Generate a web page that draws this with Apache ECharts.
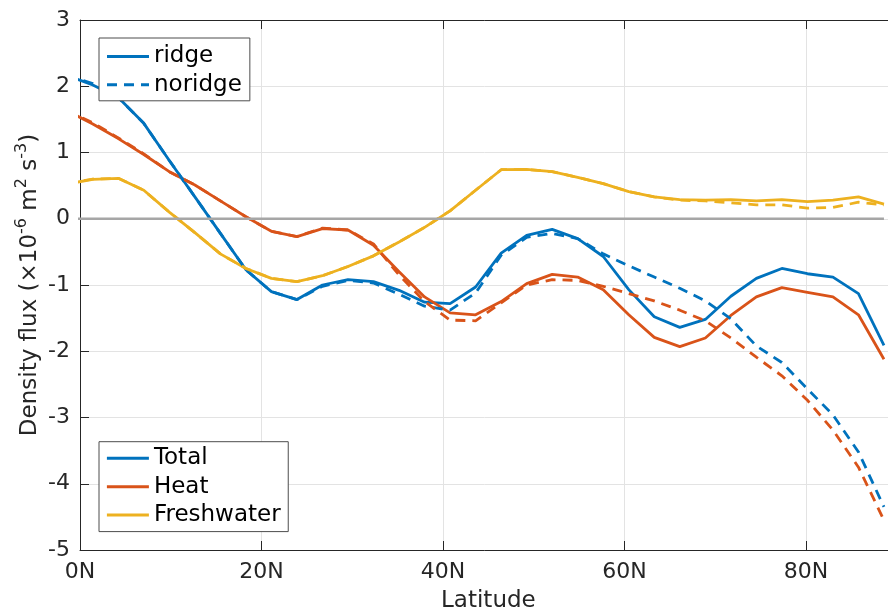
<!DOCTYPE html>
<html><head><meta charset="utf-8">
<script src="https://cdn.jsdelivr.net/npm/echarts@6/dist/echarts.min.js"></script>
<style>html,body{margin:0;padding:0;background:#fff}#c{width:888px;height:615px}</style>
</head><body><div id="c"></div>
<script>
// Latitude of each sample (degrees N)
const lat = [-1.41, 1.41, 4.22, 7.03, 9.84, 12.66, 15.47, 18.28, 21.09, 23.91, 26.72,
  29.53, 32.34, 35.16, 37.97, 40.78, 43.59, 46.41, 49.22, 52.03, 54.84, 57.66,
  60.47, 63.28, 66.09, 68.91, 71.72, 74.53, 77.34, 80.16, 82.97, 85.78, 88.59];

// ridge (solid)
const totalRidge = [2.16, 2.02, 1.83, 1.44, 0.88, 0.33, -0.22, -0.77, -1.10, -1.22, -1.00,
  -0.92, -0.95, -1.08, -1.26, -1.28, -1.03, -0.52, -0.25, -0.16, -0.30, -0.57,
  -1.07, -1.48, -1.64, -1.52, -1.17, -0.90, -0.75, -0.83, -0.88, -1.13, -1.91];
const heatRidge = [1.63, 1.43, 1.21, 0.97, 0.71, 0.51, 0.27, 0.03, -0.19, -0.27, -0.15,
  -0.17, -0.40, -0.80, -1.18, -1.42, -1.45, -1.25, -0.98, -0.84, -0.88, -1.07,
  -1.45, -1.79, -1.93, -1.80, -1.46, -1.18, -1.04, -1.11, -1.18, -1.45, -2.12];
const freshRidge = [0.525, 0.595, 0.61, 0.43, 0.10, -0.21, -0.53, -0.75, -0.90, -0.95, -0.86,
  -0.72, -0.56, -0.35, -0.13, 0.12, 0.43, 0.74, 0.745, 0.71, 0.625, 0.53,
  0.41, 0.33, 0.29, 0.28, 0.29, 0.27, 0.29, 0.26, 0.28, 0.33, 0.22];

// noridge (dashed)
const totalNoridge = [2.16, 2.04, 1.83, 1.44, 0.88, 0.33, -0.22, -0.77, -1.10, -1.22, -1.02,
  -0.93, -0.97, -1.14, -1.32, -1.38, -1.12, -0.55, -0.28, -0.22, -0.30, -0.53,
  -0.71, -0.88, -1.05, -1.24, -1.51, -1.92, -2.17, -2.57, -2.96, -3.52, -4.35];
const heatNoridge = [1.63, 1.45, 1.22, 0.98, 0.71, 0.51, 0.27, 0.03, -0.19, -0.27, -0.14,
  -0.17, -0.38, -0.85, -1.25, -1.53, -1.54, -1.27, -1.00, -0.92, -0.93, -1.02,
  -1.13, -1.24, -1.38, -1.54, -1.80, -2.09, -2.37, -2.74, -3.19, -3.75, -4.55];
const freshNoridge = [0.525, 0.60, 0.61, 0.43, 0.10, -0.21, -0.53, -0.75, -0.90, -0.95, -0.86,
  -0.72, -0.56, -0.35, -0.13, 0.12, 0.43, 0.74, 0.745, 0.71, 0.625, 0.53,
  0.41, 0.33, 0.28, 0.27, 0.24, 0.21, 0.21, 0.16, 0.17, 0.25, 0.21];

const xTickLabels = ['0N', '20N', '40N', '60N', '80N'];
const legendTop = ['ridge', 'noridge'];
const legendBottom = ['Total', 'Heat', 'Freshwater'];

const C_BLUE = '#0072BD', C_RED = '#D95319', C_YEL = '#EDB120';
const FONT = 'DejaVu Sans';
const AX = '#262626';
const LW = 2.8;
const DASH = [10, 7];

function pairs(ys) { return lat.map((x, i) => [x, ys[i]]); }
function line(name, ys, color, dashed, z) {
  return {
    name: name, type: 'line', data: ys ? pairs(ys) : [], symbol: 'none', showSymbol: false,
    clip: true, z: z || 2, silent: true,
    lineStyle: { color: color, width: LW, type: dashed ? DASH : 'solid', cap: 'butt' },
    itemStyle: { color: color }
  };
}

const chart = echarts.init(document.getElementById('c'), null, { renderer: 'canvas' });
const legendCommon = {
  orient: 'vertical', itemWidth: 42, itemHeight: 14, itemGap: 0,
  backgroundColor: '#fff', borderColor: '#4d4d4d', borderWidth: 1, borderRadius: 0,
  textStyle: { fontFamily: FONT, fontSize: 23, color: '#000', lineHeight: 28.3 },
  itemStyle: { opacity: 0 },
  lineStyle: { width: 3 },
  selectedMode: false
};
chart.setOption({
  animation: false,
  backgroundColor: '#fff',
  grid: { left: 80, top: 20, right: -8.75, bottom: 65, containLabel: false, outerBoundsMode: 'none' },
  legend: [
    Object.assign({}, legendCommon, { data: legendTop, left: 99, top: 38, padding: [4.3, 8, 1.9, 6.5] }),
    Object.assign({}, legendCommon, { data: legendBottom, left: 99, top: 441.7, padding: [2.5, 7.6, 2.5, 6.4] })
  ],
  xAxis: [{
    type: 'value', min: 0, max: 90, interval: 20, position: 'bottom',
    name: 'Latitude', nameLocation: 'middle', nameGap: 40, nameMoveOverlap: false,
    nameTextStyle: { fontFamily: FONT, fontSize: 23, color: AX },
    axisLine: { show: true, onZero: false, lineStyle: { color: AX, width: 1 } },
    axisTick: { show: true, inside: true, length: 9, lineStyle: { color: AX } },
    axisLabel: {
      fontFamily: FONT, fontSize: 22, color: AX, margin: 11, showMaxLabel: false,
      formatter: v => xTickLabels[Math.round(v / 20)] || ''
    },
    splitLine: { show: true, lineStyle: { color: '#e3e3e3', width: 1 } }
  }, {
    type: 'value', min: 0, max: 90, interval: 20, position: 'top',
    axisLine: { show: true, onZero: false, lineStyle: { color: AX, width: 1 } },
    axisTick: { show: true, inside: true, length: 9, lineStyle: { color: AX } },
    axisLabel: { show: false }, splitLine: { show: false }
  }],
  yAxis: {
    type: 'value', min: -5, max: 3, interval: 1,
    name: 'Density flux (×10{sup|-6} m{sup|2} s{sup|-3})',
    nameLocation: 'middle', nameRotate: 90, nameGap: 34, nameMoveOverlap: false,
    nameTextStyle: {
      fontFamily: FONT, fontSize: 23, color: AX, lineHeight: 32,
      rich: { sup: { fontFamily: FONT, fontSize: 16, color: AX, lineHeight: 16, verticalAlign: 'top' } }
    },
    axisLine: { show: true, onZero: false, lineStyle: { color: AX, width: 1 } },
    axisTick: { show: true, inside: true, length: 9, lineStyle: { color: AX } },
    axisLabel: { fontFamily: FONT, fontSize: 22, color: AX, margin: 10 },
    splitLine: { show: true, lineStyle: { color: '#e3e3e3', width: 1 } }
  },
  series: [
    line('Total', totalRidge, C_BLUE, false, 3),
    line('Heat', heatRidge, C_RED, false, 3),
    line('Freshwater', freshRidge, C_YEL, false, 3),
    line('Total noridge', totalNoridge, C_BLUE, true, 3),
    line('Heat noridge', heatNoridge, C_RED, true, 3),
    line('Freshwater noridge', freshNoridge, C_YEL, true, 3),
    {
      name: 'zero', type: 'line', symbol: 'none', silent: true, z: 4,
      data: [[lat[0], 0], [lat[lat.length - 1], 0]],
      lineStyle: { color: '#a6a6a6', width: 2.5 }
    },
    line('ridge', null, C_BLUE, false, 3),
    line('noridge', null, C_BLUE, true, 3)
  ]
});
</script>
</body></html>
